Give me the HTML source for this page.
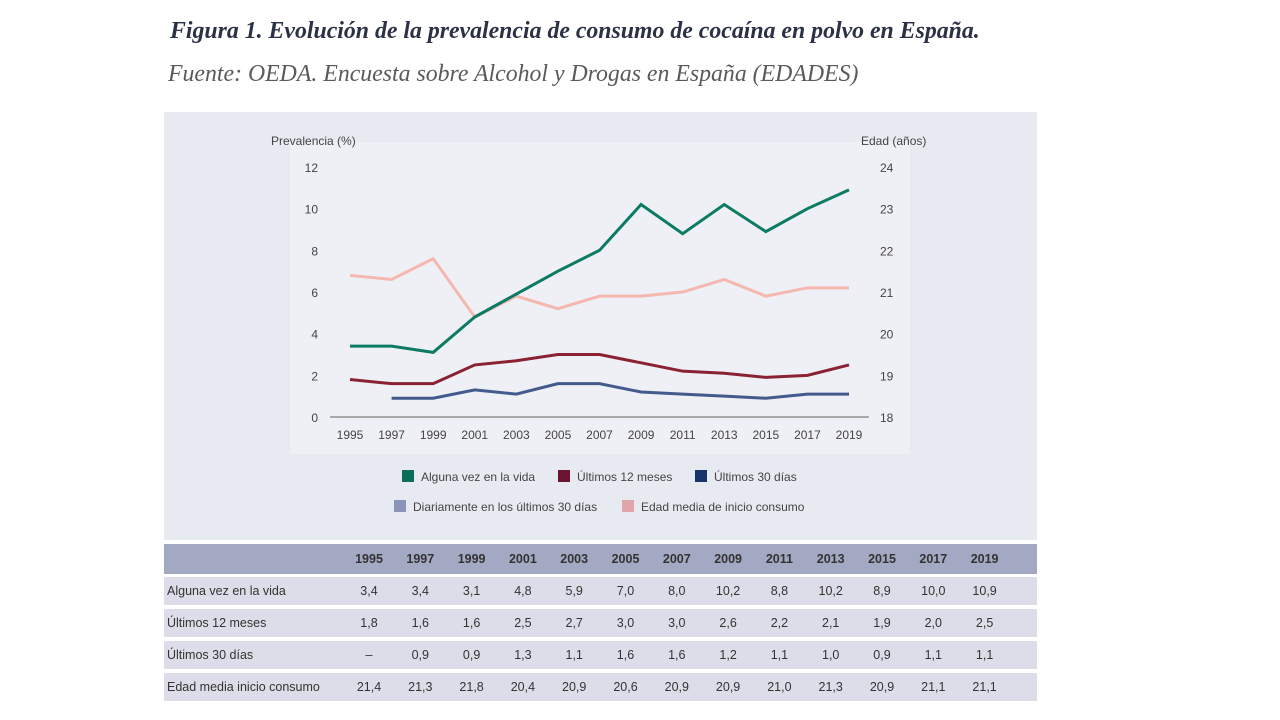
<!DOCTYPE html>
<html><head><meta charset="utf-8"><style>
body{margin:0;width:1280px;height:720px;background:#fff;position:relative;overflow:hidden;font-family:"Liberation Sans",sans-serif}
.t{position:absolute;font-family:"Liberation Serif",serif;font-style:italic;white-space:nowrap}
.tbl{position:absolute;left:164px;width:873px;font-size:12.5px;color:#333}
.row{position:absolute;left:0;width:873px;height:28px;background:#dcdde8}
.row span{position:absolute;top:7px;transform:translateX(-50%)}
.row .lab{transform:none;left:3px}
</style></head><body>
<div class="t" style="left:170px;top:18px;font-size:23.8px;font-weight:bold;color:#2b3245">Figura 1. Evolución de la prevalencia de consumo de cocaína en polvo en España.</div>
<div class="t" style="left:168px;top:61px;font-size:23.8px;color:#5a5a5a">Fuente: OEDA. Encuesta sobre Alcohol y Drogas en España (EDADES)</div>
<svg id="chart" style="position:absolute;left:0;top:0" width="1280" height="720"></svg>
<div id="tbl" class="tbl"></div>
<script>
const years=[1995,1997,1999,2001,2003,2005,2007,2009,2011,2013,2015,2017,2019];
const alguna=[3.4,3.4,3.1,4.8,5.9,7.0,8.0,10.2,8.8,10.2,8.9,10.0,10.9];
const ultimos12=[1.8,1.6,1.6,2.5,2.7,3.0,3.0,2.6,2.2,2.1,1.9,2.0,2.5];
const ultimos30=[null,0.9,0.9,1.3,1.1,1.6,1.6,1.2,1.1,1.0,0.9,1.1,1.1];
const edad=[21.4,21.3,21.8,20.4,20.9,20.6,20.9,20.9,21.0,21.3,20.9,21.1,21.1];
const leftTicks=[0,2,4,6,8,10,12];
const rightTicks=[18,19,20,21,22,23,24];
const NS="http://www.w3.org/2000/svg";
const svg=document.getElementById('chart');
function x(i){return 350+i*(849-350)/(years.length-1);}
function yL(v){return 417-v*250/12;}
function yR(v){return 417-(v-18)*250/6;}
function mk(t,a){const e=document.createElementNS(NS,t);for(const k in a)e.setAttribute(k,a[k]);svg.appendChild(e);return e;}
let e;
e=mk('rect',{x:164,y:112,width:873,height:428,fill:'#e8eaf1'});


e=mk('rect',{x:290,y:142,width:620,height:312,fill:'#eff0f5'});


e=mk('line',{x1:330,x2:869,y1:417,y2:417,stroke:'#a8a8a8','stroke-width':2});


function txt(s,x0,y0,anchor,name){const t=mk('text',{x:x0,y:y0,'text-anchor':anchor,'font-size':12,fill:'#444','font-family':'Liberation Sans'});t.textContent=s;return t;}
leftTicks.forEach(v=>txt(v,318,yL(v)+5,'end','y-left-tick'));
rightTicks.forEach(v=>txt(v,880,yR(v)+5,'start','y-right-tick'));
years.forEach((yv,i)=>txt(yv,x(i),439,'middle','x-tick'));
txt('Prevalencia (%)',271,145,'start','y-left-axis-title');
txt('Edad (años)',861,145,'start','y-right-axis-title');
function line(arr,fy,col,name){let d='';arr.forEach((v,i)=>{if(v==null)return;d+=(d?'L':'M')+x(i)+' '+fy(v);});const p=mk('path',{d:d,fill:'none',stroke:col,'stroke-width':3,'stroke-linejoin':'miter'});}
line(edad,yR,'#f4b8b0','series-edad-media');
line(alguna,yL,'#0b7b63','series-alguna-vez');
line(ultimos12,yL,'#8a2233','series-ultimos-12-meses');
line(ultimos30,yL,'#435b8c','series-ultimos-30-dias');
const legend=[['Alguna vez en la vida','#0b6e58',402,477],['Últimos 12 meses','#6a1430',558,477],['Últimos 30 días','#17336b',695,477],['Diariamente en los últimos 30 días','#8b93b8',394,507],['Edad media de inicio consumo','#e0a5a8',622,507]];
legend.forEach(l=>{const r=mk('rect',{x:l[2],y:l[3]-7,width:12,height:12,fill:l[1]});txt(l[0],l[2]+19,l[3]+4,'start','legend-entry');});
const tbl=document.getElementById('tbl');
const rows=[['',years,'#a3a8c3',544,30],['Alguna vez en la vida',alguna,'#dcdde8',577,28],['Últimos 12 meses',ultimos12,'#dcdde8',609,28],['Últimos 30 días',ultimos30,'#dcdde8',641,28],['Edad media inicio consumo',edad,'#dcdde8',673,28]];
rows.forEach((r,ri)=>{const d=document.createElement('div');d.className='row';d.style.top=(r[3]-544)+'px';d.style.height=r[4]+'px';d.style.background=r[2];


let h='<span class="lab">'+r[0]+'</span>';
r[1].forEach((v,i)=>{let s=v==null?'–':(ri==0?v:v.toFixed(1).replace('.',','));h+='<span style="left:'+(205+i*51.3)+'px;'+(ri==0?'font-weight:bold;top:8px':'')+'">'+s+'</span>';});
d.innerHTML=h;tbl.appendChild(d);});
tbl.style.top='544px';
</script>
</body></html>
